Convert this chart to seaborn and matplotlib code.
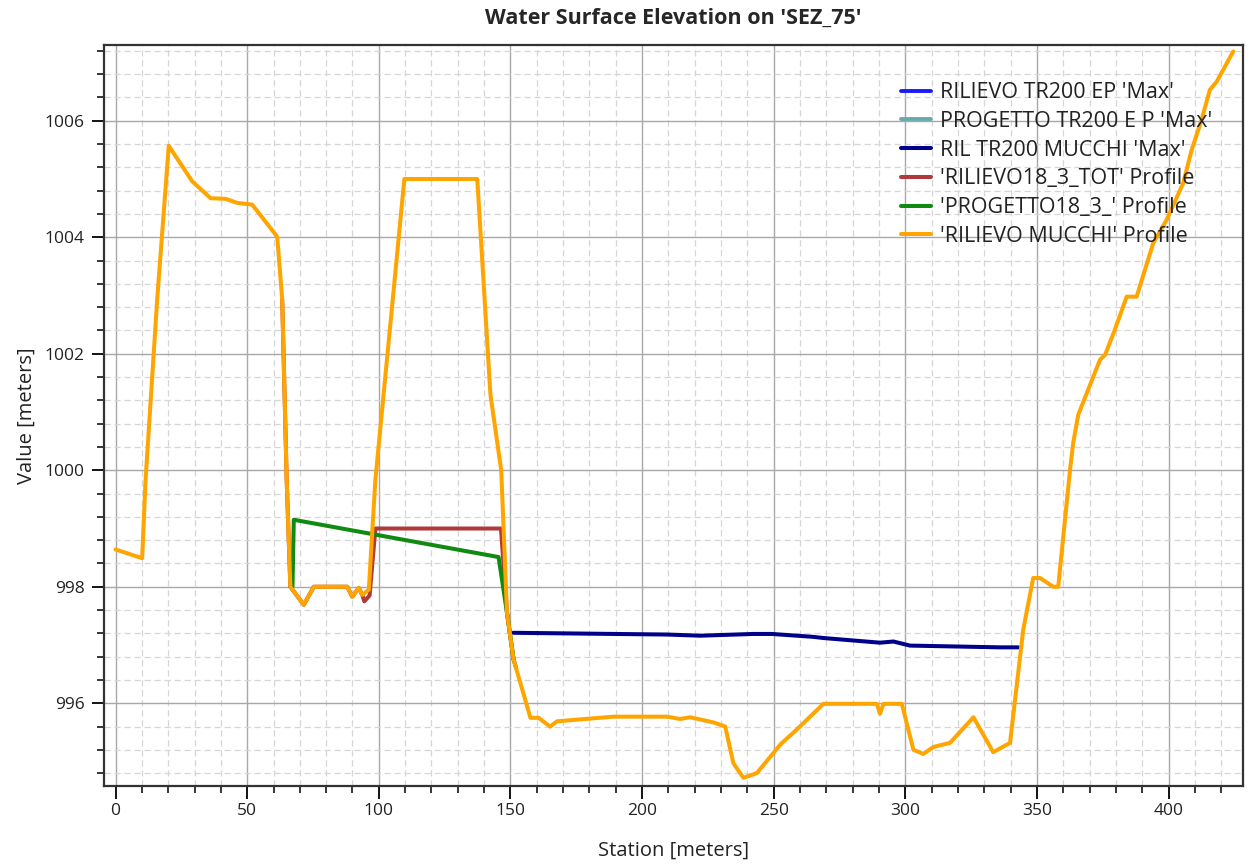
import numpy as np
import pandas as pd
import seaborn as sns
import matplotlib
matplotlib.use("Agg")
import matplotlib.pyplot as plt
from matplotlib.ticker import MultipleLocator

# ---------------- data ----------------
series_names = [
    "RILIEVO TR200 EP 'Max'",
    "PROGETTO TR200 E P 'Max'",
    "RIL TR200 MUCCHI 'Max'",
    "'RILIEVO18_3_TOT' Profile",
    "'PROGETTO18_3_' Profile",
    "'RILIEVO MUCCHI' Profile",
]
series_colors = ["#1a1aff", "#6aa9ad", "#00008b", "#b03a3a", "#108a10", "#ffa500"]

# RIL TR200 MUCCHI 'Max'
wse_mucchi_x = [151.1, 189.2, 209.4, 222.1, 242.3, 249.3, 265.1, 268.9, 290.4, 295.5,
                301.8, 336.0, 342.9]
wse_mucchi_y = [997.21, 997.19, 997.18, 997.16, 997.19, 997.19, 997.14, 997.12, 997.04, 997.06,
                996.99, 996.96, 996.96]

# 'RILIEVO18_3_TOT' Profile
ril18_x = [63.3, 65.0, 66.4, 71.5, 75.3, 88.0, 89.9, 92.4, 93.7, 94.5, 96.5, 98.7,
           146.4, 148.7, 151.2]
ril18_y = [1002.93, 999.84, 998.0, 997.69, 998.0, 998.0, 997.83, 997.98, 997.86, 997.75, 997.85, 999.0,
           999.0, 997.55, 996.75]

# 'PROGETTO18_3_' Profile
prog18_x = [66.4, 67.2, 67.7, 145.5, 148.7, 151.2, 152.2]
prog18_y = [998.0, 998.0, 999.15, 998.51, 997.55, 996.75, 996.6]

# 'RILIEVO MUCCHI' Profile (ground)
ground_x = [0.0, 10.1, 11.4, 15.8, 20.2, 29.1, 36.1, 41.8, 46.2, 51.9, 61.4, 63.3, 65.0, 66.4,
            71.5, 75.3, 88.0, 89.9, 92.4, 93.7, 96.2, 98.7, 109.7, 137.4, 142.4, 146.5,
            148.7, 151.2, 157.6, 160.7, 165.1, 167.7, 189.2, 209.4, 214.5, 218.3, 227.2,
            231.6, 234.7, 238.5, 243.6, 252.5, 258.8, 268.9, 289.2, 290.4, 291.7, 298.7,
            303.1, 306.9, 310.7, 317.0, 325.9, 333.4, 339.8, 344.8, 348.6, 351.2, 356.2,
            358.1, 362.6, 363.8, 365.7, 367.0, 374.0, 375.9, 379.6, 384.1, 387.9, 394.2,
            399.3, 405.6, 408.8, 412.6, 415.7, 418.3, 424.6]
ground_y = [998.64, 998.49, 999.84, 1002.93, 1005.57, 1004.96, 1004.67, 1004.66, 1004.59, 1004.56,
            1004.01, 1002.93, 999.84, 998.0, 997.69, 998.0, 998.0, 997.83, 997.98, 997.86,
            997.95, 999.84, 1005.0, 1005.0, 1001.3, 1000.0, 997.55, 996.75, 995.75, 995.75,
            995.6, 995.69, 995.77, 995.77, 995.73, 995.76, 995.67, 995.6, 994.97, 994.72,
            994.80, 995.29, 995.55, 995.99, 995.99, 995.82, 995.99, 995.99, 995.2, 995.13,
            995.25, 995.32, 995.76, 995.16, 995.32, 997.26, 998.15, 998.15, 998.0, 998.0,
            1000.01, 1000.47, 1000.95, 1001.1, 1001.9, 1001.98, 1002.41, 1002.98, 1002.98,
            1003.9, 1004.3, 1004.93, 1005.5, 1006.02, 1006.53, 1006.67, 1007.19]

series_x = [[], [], wse_mucchi_x, ril18_x, prog18_x, ground_x]
series_y = [[], [], wse_mucchi_y, ril18_y, prog18_y, ground_y]

title = "Water Surface Elevation on 'SEZ_75'"
xlabel = "Station [meters]"
ylabel = "Value [meters]"

# ---------------- plot ----------------
sns.set_style("white")
plt.rcParams["font.family"] = ["Open Sans", "DejaVu Sans"]

fig = plt.figure(figsize=(12.5, 8.66), dpi=100)
ax = fig.add_axes([0.0832, 0.0924, 0.9112, 0.8556])

for name, col, xs, ys in zip(series_names, series_colors, series_x, series_y):
    if len(xs) == 0:
        ax.plot([], [], color=col, lw=2.8, label=name)
        continue
    df = pd.DataFrame({"x": xs, "y": ys})
    sns.lineplot(data=df, x="x", y="y", ax=ax, color=col, lw=2.9,
                 sort=False, estimator=None, label=name)

ax.set_xlim(-4.4, 428.3)
ax.set_ylim(994.58, 1007.30)

ax.xaxis.set_major_locator(MultipleLocator(50))
ax.xaxis.set_minor_locator(MultipleLocator(10))
ax.yaxis.set_major_locator(MultipleLocator(2))
ax.yaxis.set_minor_locator(MultipleLocator(0.4))

ax.grid(which="major", color="#a8a8a8", lw=1.0, ls="-")
ax.grid(which="minor", color="#d6d6d6", lw=0.9, ls=(0, (5, 3)))
ax.set_axisbelow(True)

ax.tick_params(which="major", direction="out", length=9, width=1.3, color="black",
               labelsize=12.5, labelcolor="#222222", bottom=True, left=True)
ax.tick_params(axis="x", which="major", pad=3)
ax.tick_params(axis="y", which="major", pad=5)
ax.tick_params(which="minor", direction="out", length=5, width=1.1, color="black",
               bottom=True, left=True)

for s in ax.spines.values():
    s.set_color("#333333")
    s.set_linewidth(1.6)
    s.set_visible(True)

ax.set_xlabel(xlabel, fontsize=14.5, color="#222222", labelpad=16)
ax.set_ylabel(ylabel, fontsize=14.5, color="#222222", labelpad=6)
ax.set_title(title, fontsize=15.5, fontweight="bold", pad=15)

leg = ax.legend(loc="upper left", bbox_to_anchor=(0.700, 0.950), frameon=False,
                fontsize=15.5, handlelength=1.4, handletextpad=0.4, labelspacing=0.36,
                borderaxespad=0.0, borderpad=0.0)
for t in leg.get_texts():
    t.set_color("#222222")

fig.savefig("out.png", dpi=100)
